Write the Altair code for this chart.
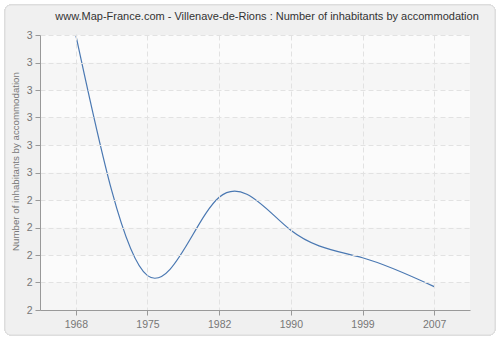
import altair as alt
import pandas as pd

# ---- data ----
years = ["1968", "1975", "1982", "1990", "1999", "2007"]
values = [3.0, 2.125, 2.41, 2.29, 2.19, 2.085]
y_ticks = [2.0, 2.1, 2.2, 2.3, 2.4, 2.5, 2.6, 2.7, 2.8, 2.9, 3.0]
band_lo = [2.0, 2.2, 2.4, 2.6, 2.8]
band_hi = [2.1, 2.3, 2.5, 2.7, 2.9]

title_text = "www.Map-France.com - Villenave-de-Rions : Number of inhabitants by accommodation"
y_title = "Number of inhabitants by accommodation"

df = pd.DataFrame({"year": years, "value": values})
bands = pd.DataFrame({"lo": band_lo, "hi": band_hi})

FONT = "Liberation Sans"
GRAY = "#777777"

x_enc = alt.X(
    "year:O",
    sort=years,
    scale=alt.Scale(type="point", padding=0.5),
    axis=alt.Axis(
        title=None, labelAngle=0, labelFont=FONT, labelFontSize=10.5,
        labelColor=GRAY, labelPadding=4, tickColor="#999999", tickSize=5,
        domainColor="#999999", grid=True, gridColor="#e2e2e2",
        gridDash=[5, 3], zindex=1,
    ),
)
y_scale = alt.Scale(domain=[2.0, 3.0], nice=False, zero=False)
y_axis = alt.Axis(
    title=y_title, values=y_ticks, format=".0f", labelFont=FONT,
    labelFontSize=10.5, labelColor=GRAY, labelPadding=3,
    tickColor="#999999", tickSize=5, domainColor="#999999",
    grid=True, gridColor="#e2e2e2", gridDash=[5, 3],
    titleFont=FONT, titleFontSize=9.7, titleColor=GRAY,
    titleFontWeight="normal", titleX=-25, titleY=126,
    titleAlign="center", titleBaseline="middle", zindex=1,
)

frame = alt.Chart(df).mark_rect(
    fill="#f0f0f0", stroke="#dddddd", strokeWidth=1, cornerRadius=6
).encode(
    x=alt.value(-35), x2=alt.value(455), y=alt.value(-30), y2=alt.value(300)
)

plot_bg = alt.Chart(df).mark_rect(fill="#fbfbfb").encode(
    x=alt.value(0), x2=alt.value(430), y=alt.value(0), y2=alt.value(275)
)

band_layer = alt.Chart(bands).mark_rect(fill="#000000", opacity=0.02).encode(
    y=alt.Y("lo:Q", scale=y_scale, axis=y_axis),
    y2="hi:Q",
)

line = alt.Chart(df).mark_line(
    interpolate="natural", color="#4a78b2", strokeWidth=1.2
).encode(
    x=x_enc,
    y=alt.Y("value:Q", scale=y_scale, axis=y_axis),
)

chart = alt.layer(frame, plot_bg, band_layer, line).properties(
    width=430,
    height=275,
    autosize=alt.AutoSizeParams(type="none"),
    padding={"left": 40, "top": 35, "right": 30, "bottom": 30},
    background="#ffffff",
    title=alt.TitleParams(
        text=title_text, font=FONT, fontSize=11, fontWeight="normal",
        color="#333333", anchor="middle", frame="group", dx=12, offset=-17,
    ),
).configure_view(stroke=None)

chart.save("out.html", embed_options={"renderer": "svg", "actions": False})
